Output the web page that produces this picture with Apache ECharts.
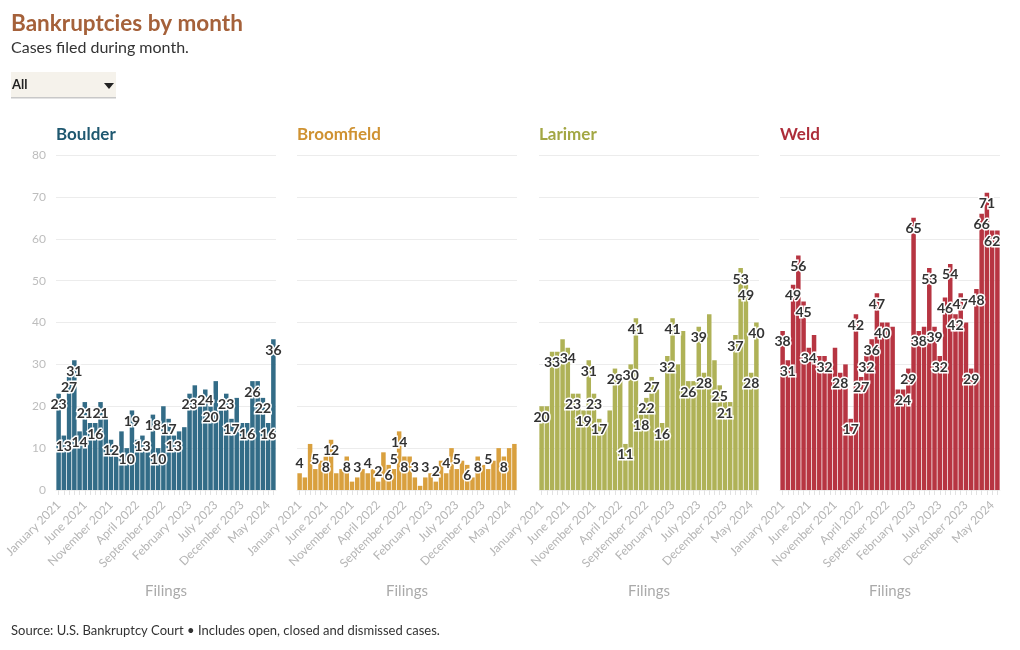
<!DOCTYPE html>
<html>
<head>
<meta charset="utf-8">
<script src="https://cdn.jsdelivr.net/npm/echarts@6/dist/echarts.min.js"></script>
<style>
html,body{margin:0;padding:0;background:#fff;}
#chart{width:1020px;height:650px;}
</style>
</head>
<body>
<div id="chart"></div>
<script>
const categories = [
  'January 2021','February 2021','March 2021','April 2021','May 2021','June 2021','July 2021','August 2021','September 2021','October 2021','November 2021','December 2021',
  'January 2022','February 2022','March 2022','April 2022','May 2022','June 2022','July 2022','August 2022','September 2022','October 2022','November 2022','December 2022',
  'January 2023','February 2023','March 2023','April 2023','May 2023','June 2023','July 2023','August 2023','September 2023','October 2023','November 2023','December 2023',
  'January 2024','February 2024','March 2024','April 2024','May 2024','June 2024'
];
const counties = ['Boulder','Broomfield','Larimer','Weld'];
const boulder = [23,13,27,31,14,21,16,16,21,17,12,8,14,10,19,12,13,9,18,10,20,17,13,14,15,23,25,20,24,20,26,19,23,17,22,16,16,26,26,22,16,36];
const broomfield = [4,3,11,5,7,8,12,4,5,8,2,3,5,4,5,2,9,6,5,14,8,8,3,1,3,4,2,7,4,10,5,7,6,3,8,6,5,7,10,8,10,11];
const larimer = [20,20,33,33,36,34,23,23,19,31,23,17,15,19,29,27,11,30,41,18,22,27,24,16,32,41,30,38,26,26,39,28,42,31,25,21,21,37,53,49,28,40];
const weld = [38,31,49,56,45,34,37,32,32,30,34,28,30,17,42,27,32,36,47,40,40,39,24,24,29,65,38,39,53,39,32,46,54,42,47,40,29,48,66,71,62,62];
// indices of bars that carry a visible value label
const boulderLabeled = [0,1,2,3,4,5,7,8,10,13,14,16,18,19,21,22,25,28,29,32,33,36,37,39,40,41];
const broomfieldLabeled = [0,3,5,6,9,11,13,15,17,18,19,20,22,24,26,28,30,32,34,36,39];
const larimerLabeled = [0,2,5,6,8,9,10,11,14,16,17,18,19,20,21,23,24,25,28,30,31,34,35,37,38,39,40,41];
const weldLabeled = [0,1,2,3,4,5,8,11,13,14,15,16,17,18,19,23,24,25,26,28,29,30,31,32,33,34,36,37,38,39,40];
const yTicks = [0,10,20,30,40,50,60,70,80];

const seriesValues = [boulder, broomfield, larimer, weld];
const labeled = [boulderLabeled, broomfieldLabeled, larimerLabeled, weldLabeled];
const barColors = ['#336c87','#d9a03e','#afb257','#b73542'];
const titleColors = ['#1f5870','#cf9232','#a3a744','#ad2d3a'];
const lefts = [56, 297, 539, 780];
const W = 220, TOP = 155, H = 335;
const FONT = 'Lato, "Noto Sans", sans-serif';

const chart = echarts.init(document.getElementById('chart'), null, {renderer:'canvas'});

const grids = [], xAxes = [], yAxes = [], series = [], titles = [];
titles.push({text:'Bankruptcies by month', left:11, top:12, padding:0,
  textStyle:{fontFamily:FONT, fontSize:22.5, fontWeight:'bold', color:'#a5613a'}});
titles.push({text:'Cases filed during month.', left:11, top:40, padding:0,
  textStyle:{fontFamily:FONT, fontSize:16, fontWeight:'normal', color:'#333'}});
titles.push({text:'Source: U.S. Bankruptcy Court \u2022 Includes open, closed and dismissed cases.', left:11, top:624, padding:0,
  textStyle:{fontFamily:FONT, fontSize:13, fontWeight:'normal', color:'#333'}});

const smallLabel = {position:'top', distance:3};
counties.forEach((name, k) => {
  grids.push({left: lefts[k], top: TOP, width: W, height: H, containLabel:false});
  titles.push({text:name, left: lefts[k], top:126, padding:0,
    textStyle:{fontFamily:FONT, fontSize:17, fontWeight:'bold', color:titleColors[k]}});
  xAxes.push({
    type:'category', gridIndex:k, data:categories,
    name:'Filings', nameLocation:'middle', nameGap:94,
    nameTextStyle:{fontFamily:FONT, fontSize:15, color:'#aaa'},
    axisLine:{show:true, lineStyle:{color:'#eeeeee'}},
    axisTick:{show:true, interval:0, alignWithLabel:true, length:5, lineStyle:{color:'#e2e2e2'}},
    axisLabel:{interval:4, rotate:45, fontFamily:FONT, fontSize:12, color:'#b5b5b5', margin:13}
  });
  yAxes.push({
    type:'value', gridIndex:k, min:0, max:80, interval:10,
    axisLine:{show:false}, axisTick:{show:false},
    axisLabel:{show:k===0, fontFamily:FONT, fontSize:12, color:'#bdbdbd', margin:10},
    splitLine:{show:true, lineStyle:{color:'#ececec', width:1}}
  });
  const vals = seriesValues[k];
  series.push({
    type:'bar', xAxisIndex:k, yAxisIndex:k,
    barCategoryGap:'14%',
    itemStyle:{color:barColors[k]},
    label:{show:false, position:'insideTop', distance:4, fontFamily:FONT, fontSize:14, fontWeight:'bold',
      color:'#333', textBorderColor:'#fff', textBorderWidth:3},
    data: vals.map((v,i) => {
      const show = labeled[k].indexOf(i) >= 0;
      const lab = v <= 5 ? Object.assign({show:show}, smallLabel) : {show:show};
      return {value:v, label:lab};
    }),
    animation:false
  });
});

chart.setOption({
  animation:false,
  title: titles,
  grid: grids,
  xAxis: xAxes,
  yAxis: yAxes,
  series: series,
  graphic: [
    {type:'rect', shape:{x:11, y:72, width:105, height:26}, style:{fill:'#f5f2eb'}},
    {type:'rect', shape:{x:11, y:97, width:105, height:1.5}, style:{fill:'#c8c8c8'}},
    {type:'text', left:12, top:78, style:{text:'All', fontFamily:FONT, fontSize:13, fontWeight:'bold', fill:'#222'}},
    {type:'polygon', shape:{points:[[104,83],[114,83],[109,89]]}, style:{fill:'#222'}}
  ]
});
</script>
</body>
</html>
